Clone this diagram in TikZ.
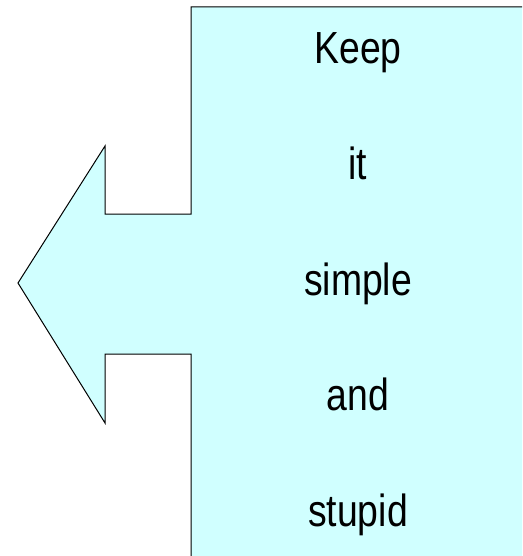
\documentclass[tikz,border=0pt]{standalone}
\usepackage{fontspec}
\setmainfont{Liberation Sans}[FakeStretch=0.83]
\definecolor{calloutfill}{RGB}{208,255,255}
\begin{document}
\begin{tikzpicture}[
  x=1pt,y=-1pt,
  callout/.style={draw=black, fill=calloutfill, line width=1pt, line join=miter},
  word/.style={font=\fontsize{45}{54}\selectfont, anchor=base, inner sep=0pt}
]
\useasboundingbox (0,0) rectangle (522,556);
\clip (0,0) rectangle (522,556);
\draw[callout] (191,7) -- (530,7) -- (530,562) -- (191,562) -- (191,354)
  -- (105,354) -- (105,423) -- (18,283) -- (105,146) -- (105,214)
  -- (191,214) -- cycle;

\node[word] (keep)   at (358,64)  {Keep};
\node[word] (it)     at (358,179) {it};
\node[word] (simple) at (358,295) {simple};
\node[word] (and)    at (358,410) {and};
\node[word] (stupid) at (358,526) {stupid};
\end{tikzpicture}
\end{document}
